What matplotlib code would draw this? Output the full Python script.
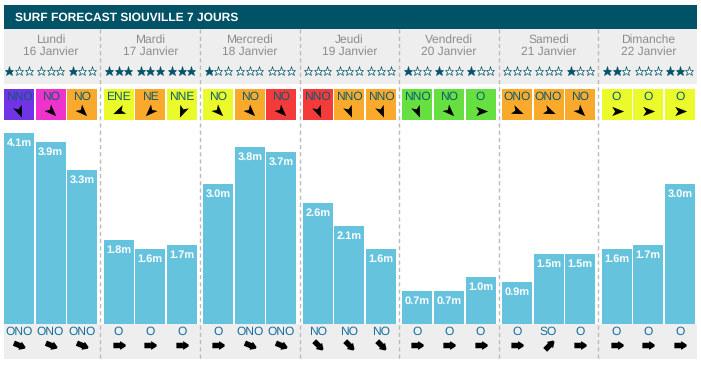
import matplotlib
matplotlib.use("Agg")
import matplotlib.pyplot as plt
from matplotlib.markers import MarkerStyle
from matplotlib.patches import Rectangle
from matplotlib.path import Path
from matplotlib.transforms import Affine2D

plt.rcParams['font.family'] = ['Liberation Sans', 'DejaVu Sans']
plt.rcParams['text.hinting'] = 'no_hinting'
plt.rcParams['text.hinting_factor'] = 1

title = "SURF FORECAST SIOUVILLE 7 JOURS"
day_names = ["Lundi", "Mardi", "Mercredi", "Jeudi", "Vendredi", "Samedi", "Dimanche"]
dates = ["16 Janvier", "17 Janvier", "18 Janvier", "19 Janvier", "20 Janvier", "21 Janvier", "22 Janvier"]

# three values per day
heights = [[4.1, 3.9, 3.3], [1.8, 1.6, 1.7], [3.0, 3.8, 3.7], [2.6, 2.1, 1.6],
           [0.7, 0.7, 1.0], [0.9, 1.5, 1.5], [1.6, 1.7, 3.0]]
stars = [[1, 0, 1], [3, 3, 3], [1, 0, 0], [0, 0, 0], [1, 1, 1], [0, 0, 1], [2, 0, 2]]
wind_dir = [["NNO", "NO", "NO"], ["ENE", "NE", "NNE"], ["NO", "NO", "NO"], ["NNO", "NNO", "NNO"],
            ["NNO", "NO", "O"], ["ONO", "ONO", "NO"], ["O", "O", "O"]]
wind_col = [["purple", "magenta", "orange"], ["yellow", "orange", "yellow"], ["yellow", "orange", "red"],
            ["red", "orange", "orange"], ["green", "green", "green"], ["orange", "orange", "orange"],
            ["yellow", "yellow", "yellow"]]
swell_dir = [["ONO", "ONO", "ONO"], ["O", "O", "O"], ["O", "ONO", "ONO"], ["NO", "NO", "NO"],
             ["O", "O", "O"], ["O", "SO", "O"], ["O", "O", "O"]]

colors = {"purple": "#7033e6", "magenta": "#ee33cc", "orange": "#f9aa2c", "yellow": "#ebfa2a",
          "red": "#f43a3a", "green": "#66e040"}
bearings = {"NNO": 337.5, "NO": 315, "ONO": 292.5, "O": 270, "SO": 225, "ENE": 67.5, "NE": 45, "NNE": 22.5}

TEAL = "#005266"
GREY = "#eeeeee"
BAR = "#65c3de"
PX_PER_M = 46.6

kite = Path([(1, 0), (-0.8, 0.7), (-0.35, 0), (-0.8, -0.7), (1, 0)], closed=True)
fat = Path([(-1, 0.45), (0.1, 0.45), (0.1, 0.72), (1, 0.16), (1, -0.16), (0.1, -0.72), (0.1, -0.45),
            (-1, -0.45), (-1, 0.45)], closed=True)


def arrow(path, name):
    # arrows show where it goes to, not where it comes from
    return MarkerStyle(path, transform=Affine2D().rotate_deg(-90 - bearings[name]))


def slot_x(d, s):
    return 19 + 99.6 * d + 31.6 * s


fig = plt.figure(figsize=(7.01, 3.67), dpi=100)

# layout axes in pixels
ax = fig.add_axes([0, 0, 1, 1])
ax.set_xlim(0, 701)
ax.set_ylim(367, 0)
ax.axis("off")

ax.add_patch(Rectangle((4, 5), 693, 24, color=TEAL, lw=0))
ax.add_patch(Rectangle((4, 29), 693, 55, color=GREY, lw=0))
ax.add_patch(Rectangle((4, 324), 693, 35, color=GREY, lw=0))
ax.text(15, 17.5, title, color="white", fontsize=8.9, fontweight="bold", ha="left", va="center")

for i in range(6):
    ax.plot([100.3 + 99.6 * i] * 2, [29, 359], color="#bbbbbb", lw=1, dashes=(3, 2.2))

for d in range(7):
    mid = slot_x(d, 1)
    ax.text(mid, 40, day_names[d], color="#8c8c8c", fontsize=8.7, ha="center", va="center")
    ax.text(mid, 52, dates[d], color="#8c8c8c", fontsize=8.7, ha="center", va="center")
    for s in range(3):
        x = slot_x(d, s)
        for k in range(3):
            face = TEAL if k < stars[d][s] else "white"
            ax.plot(x + (k - 1) * 9.6, 71, marker="*", ms=6.8, mfc=face, mec=TEAL, mew=0.5, ls="none")
        ax.add_patch(Rectangle((x - 15, 89), 30, 31, color=colors[wind_col[d][s]], lw=0))
        ax.text(x, 97, wind_dir[d][s], color="#0b5c70", fontsize=8.7, ha="center", va="center")
        ax.plot(x, 111, marker=arrow(kite, wind_dir[d][s]), ms=9.6, color="black", mew=0, ls="none")
        ax.text(x, 332, swell_dir[d][s], color="#14709c", fontsize=8.7, ha="center", va="center")
        ax.plot(x, 345, marker=arrow(fat, swell_dir[d][s]), ms=8.8, color="black", mew=0, ls="none")

# bars, y axis in metres, baseline at 324 px
ax2 = fig.add_axes([0, (367 - 324) / 367, 1, 324 / 367])
ax2.set_xlim(0, 701)
ax2.set_ylim(0, 324 / PX_PER_M)
ax2.axis("off")
ax2.patch.set_alpha(0)

for d in range(7):
    for s in range(3):
        x = slot_x(d, s)
        v = heights[d][s]
        ax2.bar(x, v, width=30, color=BAR)
        ax2.annotate(f"{v}m", (x, v), xytext=(0, -7.2), textcoords="offset points", color="white",
                     fontsize=8, fontweight="bold", ha="center", va="center")

fig.savefig("out.png", dpi=100)
